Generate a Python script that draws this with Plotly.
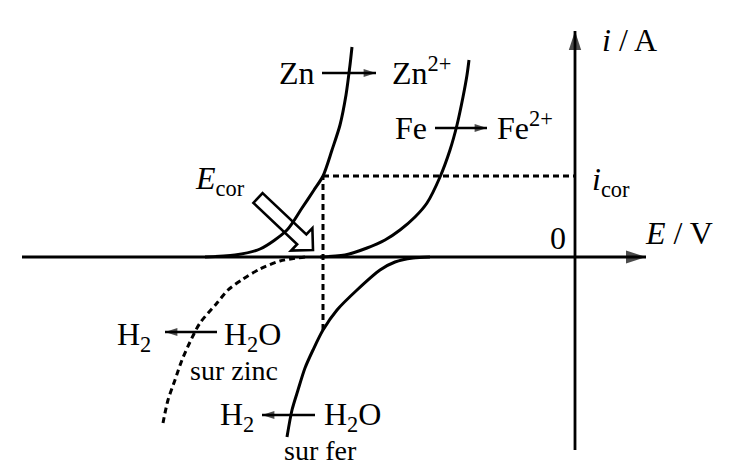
import plotly.graph_objects as go

# ---- data (E in arbitrary units, i in arbitrary units) ----
E_ZN_OX = [-3.70, -3.40, -3.15, -2.88, -2.73, -2.61, -2.52, -2.43, -2.35, -2.29, -2.25, -2.23]
I_ZN_OX = [0.00, 0.02, 0.08, 0.27, 0.49, 0.67, 0.81, 1.07, 1.32, 1.62, 1.92, 2.10]

E_FE_OX = [-2.55, -2.30, -2.08, -1.90, -1.75, -1.60, -1.48, -1.35, -1.25, -1.18, -1.12, -1.08, -1.06]
I_FE_OX = [0.00, 0.02, 0.09, 0.17, 0.27, 0.40, 0.54, 0.80, 1.07, 1.32, 1.60, 1.82, 1.97]

E_H2_ZN = [-2.70, -2.95, -3.15, -3.32, -3.47, -3.58, -3.75, -3.85, -3.93, -4.00, -4.07, -4.12]
I_H2_ZN = [0.00, -0.04, -0.12, -0.22, -0.33, -0.46, -0.66, -0.85, -1.03, -1.23, -1.43, -1.66]

E_H2_FE = [-1.45, -1.62, -1.80, -1.95, -2.18, -2.38, -2.52, -2.62, -2.70, -2.77, -2.83, -2.88]
I_H2_FE = [0.00, -0.01, -0.05, -0.13, -0.33, -0.53, -0.73, -0.93, -1.11, -1.33, -1.53, -1.80]

E_COR = -2.52
I_COR = 0.81
I_COR_LOW = -0.73

FONT = "Liberation Serif"
FS = 32
FS_SMALL = 28

fig = go.Figure()

solid = dict(color="black", width=3, shape="spline", smoothing=0.8)
dashed = dict(color="black", width=3, shape="spline", smoothing=0.8, dash="6px,4px")

fig.add_trace(go.Scatter(x=E_ZN_OX, y=I_ZN_OX, mode="lines", line=solid))
fig.add_trace(go.Scatter(x=E_FE_OX, y=I_FE_OX, mode="lines", line=solid))
fig.add_trace(go.Scatter(x=E_H2_ZN, y=I_H2_ZN, mode="lines", line=dashed))
fig.add_trace(go.Scatter(x=E_H2_FE, y=I_H2_FE, mode="lines", line=solid))
# construction lines
fig.add_trace(go.Scatter(x=[E_COR, E_COR], y=[I_COR_LOW, I_COR], mode="lines",
                         line=dict(color="black", width=3, dash="6px,4px")))
fig.add_trace(go.Scatter(x=[E_COR, 0], y=[I_COR, I_COR], mode="lines",
                         line=dict(color="black", width=3, dash="6px,4px")))


def arrow(xs, ys, width, head):
    fig.add_trace(go.Scatter(x=xs, y=ys, mode="lines",
                             line=dict(color="black", width=width)))
    fig.add_trace(go.Scatter(x=xs, y=ys, mode="markers",
                             marker=dict(symbol="arrow", angleref="previous",
                                         size=[0, head], color="black",
                                         line=dict(width=0))))


# axes
arrow([-5.53, 0.71], [0, 0], 2.8, 21)
arrow([0, 0], [-1.93, 2.26], 2.8, 20)
# reaction arrows
arrow([-2.53, -1.99], [1.84, 1.84], 2.3, 13)
arrow([-1.40, -0.88], [1.29, 1.29], 2.3, 13)
arrow([-3.58, -4.10], [-0.75, -0.75], 2.3, 13)
arrow([-2.60, -3.13], [-1.58, -1.58], 2.3, 13)

ann = []


def label(x, y, text, anchor="left", size=FS):
    ann.append(dict(x=x, y=y, text=text, showarrow=False, xref="x", yref="y",
                    xanchor=anchor, yanchor="middle",
                    font=dict(family=FONT, size=size, color="black")))


label(-2.98, 1.84, "Zn")
label(-1.85, 1.86, "Zn<sup>2+</sup>")
label(-1.82, 1.29, "Fe")
label(-0.80, 1.31, "Fe<sup>2+</sup>")
label(0.25, 2.17, "<i>i</i> / A")
label(0.15, 0.76, "<i>i</i><sub>cor</sub>")
label(-0.17, 0.19, "0", anchor="center")
label(0.68, 0.24, "<i>E</i> / V")
label(-3.82, 0.77, "<i>E</i><sub>cor</sub>")
label(-4.60, -0.79, "H<sub>2</sub>")
label(-3.53, -0.79, "H<sub>2</sub>O")
label(-3.87, -1.13, "sur zinc", size=FS_SMALL)
label(-3.57, -1.59, "H<sub>2</sub>")
label(-2.53, -1.59, "H<sub>2</sub>O")
label(-2.93, -1.935, "sur fer", size=FS_SMALL)

# hollow block arrow pointing at E_cor
tail = (-3.17, 0.59)
tip = (-2.62, 0.07)
dx, dy = tip[0] - tail[0], tip[1] - tail[1]
L = (dx * dx + dy * dy) ** 0.5
ux, uy = dx / L, dy / L
nx, ny = -uy, ux
w, H, hl = 0.067, 0.155, 0.155
nkx, nky = tip[0] - ux * hl, tip[1] - uy * hl
pts = [
    (tail[0] + nx * w, tail[1] + ny * w),
    (nkx + nx * w, nky + ny * w),
    (nkx + nx * H, nky + ny * H),
    tip,
    (nkx - nx * H, nky - ny * H),
    (nkx - nx * w, nky - ny * w),
    (tail[0] - nx * w, tail[1] - ny * w),
]
path = "M " + " L ".join(f"{px:.4f},{py:.4f}" for px, py in pts) + " Z"
fig.add_shape(type="path", path=path, xref="x", yref="y", fillcolor="white",
              line=dict(color="black", width=2.6), layer="below")

# page body has an 8px margin: figure is 742x460 and ranges compensate
fig.update_layout(
    width=742, height=460,
    margin=dict(l=0, r=0, t=0, b=0),
    paper_bgcolor="white", plot_bgcolor="white",
    showlegend=False,
    annotations=ann,
    xaxis=dict(range=[-5.67, 1.75], visible=False, fixedrange=True),
    yaxis=dict(range=[-2.11, 2.49], visible=False, fixedrange=True),
)

fig.write_html("out.html")
